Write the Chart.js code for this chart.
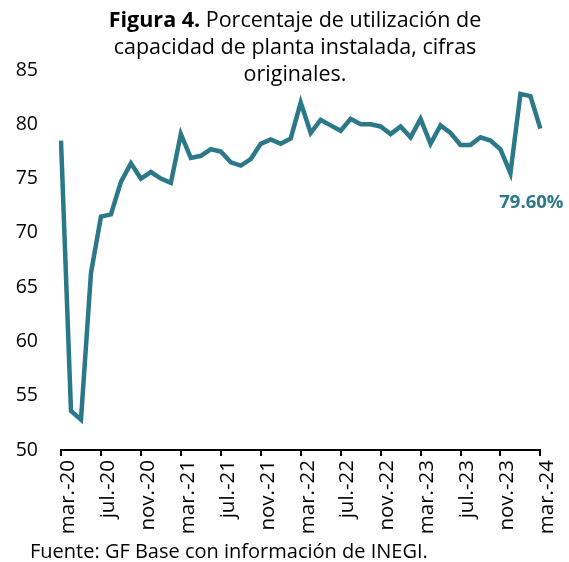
<!DOCTYPE html>
<html>
<head>
<meta charset="utf-8">
<script src="https://cdn.jsdelivr.net/npm/chart.js@4/dist/chart.umd.min.js"></script>
<style>
  body { margin: 0; background: #fff; }
  #wrap { position: relative; width: 569px; height: 562px; font-family: 'Open Sans', sans-serif; }
  #title { position: absolute; left: 0; top: 5px; width: 590px; text-align: center; font-size: 21.5px; line-height: 27px; color: #000; }
  #source { position: absolute; left: 30px; top: 537px; font-size: 20px; color: #000; }
  canvas { position: absolute; left: 0; top: 0; }
</style>
</head>
<body>
<div id="wrap">
  <canvas id="chart" width="569" height="562"></canvas>
  <div id="title"><b>Figura 4.</b> Porcentaje de utilización de<br>capacidad de planta instalada, cifras<br>originales.</div>
  <div id="source">Fuente: GF Base con información de INEGI.</div>
</div>
<script>
// monthly labels, mar.-20 to mar.-24
const months = ['ene.', 'feb.', 'mar.', 'abr.', 'may.', 'jun.', 'jul.', 'ago.', 'sep.', 'oct.', 'nov.', 'dic.'];
const labels = [];
for (let y = 20; y <= 24; y++) {
    for (let m = 0; m < 12; m++) {
        if ((y == 20 && m < 2) || (y == 24 && m > 2))
            continue;
        labels.push(months[m] + '-' + y);
    }
}

// utilización de capacidad (%)
const values = [
    78.5, 53.6, 52.8, 66.3, 71.5, 71.7, 74.7, 76.4, 75.0, 75.6,
    75.0, 74.6, 79.1, 76.9, 77.1, 77.7, 77.5, 76.5, 76.2, 76.8, 78.2, 78.6,
    78.2, 78.7, 82.0, 79.2, 80.4, 79.9, 79.4, 80.5, 80.0, 80.0, 79.8, 79.1,
    79.8, 78.8, 80.5, 78.2, 79.9, 79.2, 78.1, 78.1, 78.8, 78.5, 77.7, 75.5,
    82.8, 82.6, 79.6
];

const yTicks = [50, 55, 60, 65, 70, 75, 80, 85];
const lineColor = '#2B7888';

const lastLabel = {
    id: 'lastLabel',
    afterDatasetsDraw: (chart) => {
        const ctx = chart.ctx;
        const pts = chart.getDatasetMeta(0).data;
        const pt = pts[pts.length - 1];
        const v = values[values.length - 1];
        ctx.save();
        ctx.font = 'bold 18.5px "Open Sans"';
        ctx.fillStyle = lineColor;
        ctx.textAlign = 'center';
        ctx.textBaseline = 'middle';
        ctx.fillText(v.toFixed(2) + '%', pt.x - 9, pt.y + 74);
        ctx.restore();
    }
};

new Chart(document.getElementById('chart'), {
    type: 'line',
    data: {
        labels: labels,
        datasets: [{
            data: values,
            borderColor: lineColor,
            borderWidth: 4.5,
            pointRadius: 0,
            tension: 0,
            fill: false
        }]
    },
    options: {
        responsive: false,
        animation: false,
        layout: {padding: {top: 70, right: 24, bottom: 0, left: 0}},
        plugins: {legend: {display: false}, tooltip: {enabled: false}},
        scales: {
            x: {
                afterFit: (scale) => { scale.height = 112; },
                grid: {drawOnChartArea: false, drawTicks: true, tickLength: 6, color: '#000', lineWidth: 2},
                border: {color: '#000', width: 2},
                ticks: {
                    autoSkip: false,
                    maxRotation: 90,
                    minRotation: 90,
                    padding: 4,
                    labelOffset: 7,
                    color: '#000',
                    font: {family: 'Open Sans', size: 20.5},
                    callback: function(val, i) {
                        return i % 4 == 0 ? labels[i] : null;
                    }
                }
            },
            y: {
                min: 50,
                max: 85,
                afterFit: (scale) => { scale.width = 61; },
                afterBuildTicks: (scale) => { scale.ticks = yTicks.map(v => ({value: v})); },
                grid: {display: false, drawTicks: false},
                border: {display: false},
                ticks: {
                    padding: 23,
                    color: '#000',
                    font: {family: 'Open Sans', size: 19.5}
                }
            }
        }
    },
    plugins: [lastLabel]
});
</script>
</body>
</html>
